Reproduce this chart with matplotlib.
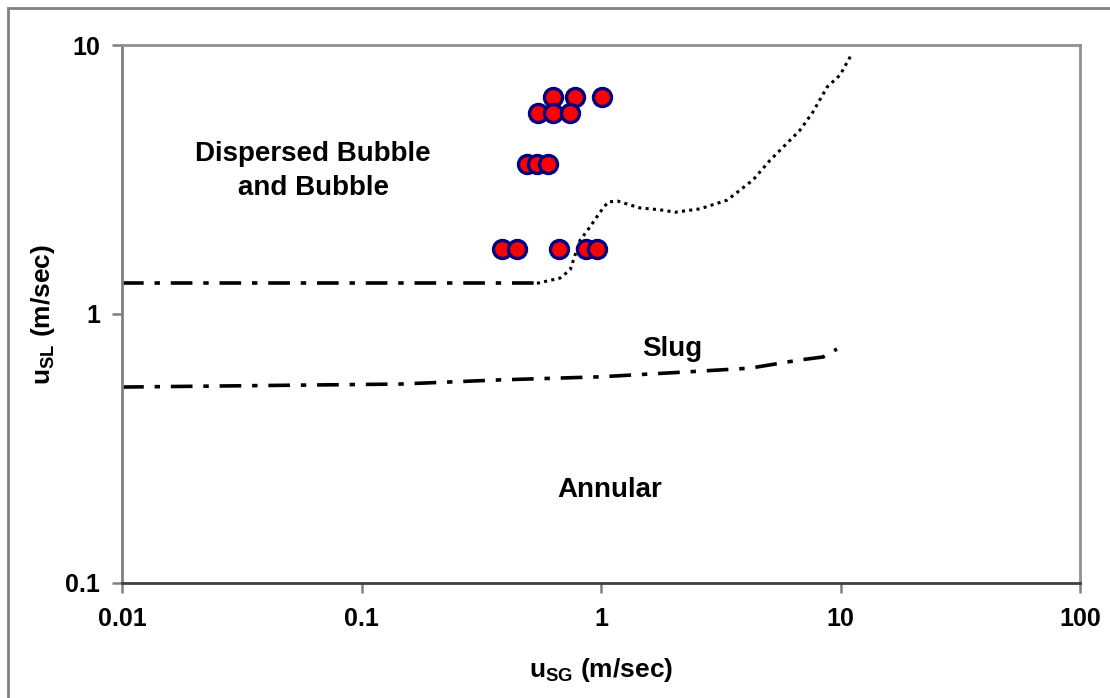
# flow regime map: superficial liquid vs gas velocity, with measured points

import numpy as np
import matplotlib
matplotlib.use("Agg")
import matplotlib.pyplot as plt
from matplotlib.patches import Rectangle

plt.rcParams["font.family"] = ["Liberation Sans", "DejaVu Sans"]
plt.rcParams["mathtext.fontset"] = "custom"
plt.rcParams["mathtext.rm"] = "Liberation Sans:bold"

# measured points (m/sec)
usg_pts = [0.63, 0.78, 1.01, 0.546, 0.63, 0.74, 0.49, 0.54, 0.60,
           0.386, 0.446, 0.668, 0.866, 0.96]
usl_pts = [6.4, 6.4, 6.4, 5.6, 5.6, 5.6, 3.6, 3.6, 3.6,
           1.75, 1.75, 1.75, 1.75, 1.75]

# upper boundary, dash-dot part (bubble / slug)
upper_dd_x = [0.01, 0.53]
upper_dd_y = [1.30, 1.30]

# upper boundary, dotted part
upper_dot_x = [0.54, 0.674, 0.743, 0.817, 0.90, 0.99, 1.07, 1.17, 1.45, 1.76,
               2.04, 2.59, 3.36, 4.31, 5.08, 6.78, 7.67, 8.79, 9.95, 11.2]
upper_dot_y = [1.30, 1.36, 1.46, 1.88, 2.11, 2.39, 2.61, 2.63, 2.48, 2.44,
               2.39, 2.46, 2.65, 3.15, 3.73, 4.83, 5.64, 6.98, 7.73, 9.34]

# lower boundary (slug / annular)
lower_x = [0.01, 0.145, 0.379, 0.99, 2.2, 4.19, 6.78, 8.45, 9.66]
lower_y = [0.535, 0.549, 0.569, 0.584, 0.608, 0.629, 0.675, 0.692, 0.741]

fig = plt.figure(figsize=(11.1, 6.98), dpi=100)
ax = fig.add_axes([0.110, 0.1648, 0.863, 0.7707])

dashdot = (0, (6, 3, 1.5, 3))
ax.plot(upper_dd_x, upper_dd_y, color="black", lw=2.6, linestyle=dashdot)
ax.plot(upper_dot_x, upper_dot_y, color="black", lw=2.2, linestyle=(0, (1, 1.4)))
ax.plot(lower_x, lower_y, color="black", lw=2.6, linestyle=dashdot)

ax.plot(usg_pts, usl_pts, "o", color="red", markersize=13,
        markeredgecolor="#000080", markeredgewidth=2.4, linestyle="none")

ax.set_xscale("log")
ax.set_yscale("log")
ax.set_xlim(0.01, 100)
ax.set_ylim(0.1, 10)
ax.set_xticks([0.01, 0.1, 1, 10, 100])
ax.set_xticklabels(["0.01", "0.1", "1", "10", "100"])
ax.set_yticks([0.1, 1, 10])
ax.set_yticklabels(["0.1", "1", "10"])
ax.minorticks_off()
ax.tick_params(direction="out", length=7, width=1.8, color="#808080", labelsize=18)
ax.tick_params(axis="x", pad=10)
ax.tick_params(axis="y", pad=9)
for lab in ax.get_xticklabels() + ax.get_yticklabels():
    lab.set_fontweight("bold")

ax.spines["left"].set_color("#808080")
ax.spines["bottom"].set_color("#404040")
ax.spines["top"].set_color("#909090")
ax.spines["right"].set_color("#909090")
for s in ax.spines.values():
    s.set_linewidth(2)

ax.set_xlabel(r"u$_{\mathrm{SG}}$ (m/sec)", fontsize=19, fontweight="bold", labelpad=18)
ax.set_ylabel(r"u$_{\mathrm{SL}}$ (m/sec)", fontsize=19, fontweight="bold", labelpad=6)

ax.text(0.0627, 3.4, "Dispersed Bubble\nand Bubble", ha="center", va="center",
        fontsize=20, fontweight="bold", linespacing=1.4)
ax.text(1.98, 0.74, "Slug", ha="center", va="center", fontsize=20, fontweight="bold")
ax.text(1.09, 0.222, "Annular", ha="center", va="center", fontsize=20, fontweight="bold")

# outer chart frame (only left and top edges show)
fig.add_artist(Rectangle((8 / 1110, -0.1), 1.2, 1.1 - 8 / 698, transform=fig.transFigure,
                         fill=False, edgecolor="#808080", lw=2))

fig.savefig("out.png", dpi=100)
